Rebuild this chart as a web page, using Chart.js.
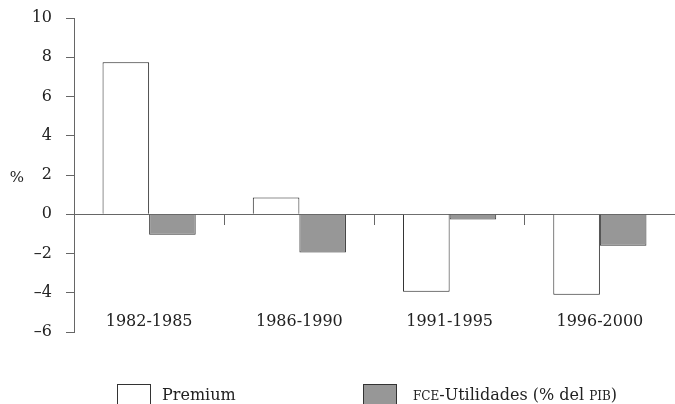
<!DOCTYPE html>
<html>
<head>
<meta charset="utf-8">
<script src="https://cdn.jsdelivr.net/npm/chart.js"></script>
<style>
  html, body { margin: 0; padding: 0; background: #fff; overflow: hidden; }
  #wrap { position: relative; width: 675px; height: 404px; }
  .legend { position: absolute; font-family: "DejaVu Serif", serif; font-size: 16px; color: #222; white-space: nowrap; }
  .box { position: absolute; width: 34px; height: 24px; border: 1px solid #333; box-sizing: border-box; }
  .sc { font-size: 12px; }
</style>
</head>
<body>
<div id="wrap">
  <canvas id="chart" width="675" height="404"></canvas>
  <div class="box" style="left:117px; top:384px; background:#fff;"></div>
  <div class="legend" style="left:162px; top:385px;">Premium</div>
  <div class="box" style="left:363px; top:384px; background:#979797;"></div>
  <div class="legend" style="left:413px; top:385px;"><span class="sc">FCE</span>-Utilidades (% del <span class="sc">PIB</span>)</div>
</div>
<script>
// periods and series
const periods = ['1982-1985', '1986-1990', '1991-1995', '1996-2000'];
const premium = [7.75, 0.85, -3.95, -4.1];
const fceUtilidades = [-1.05, -1.95, -0.27, -1.6];
const yTicks = [10, 8, 6, 4, 2, 0, -2, -4, -6];

const font = { family: '"DejaVu Serif", serif', size: 16 };
const axisColor = '#666';

// draws the "%" label next to the y axis
const percentLabel = {
  id: 'percentLabel',
  afterDraw(chart) {
    const ctx = chart.ctx;
    const y = chart.scales.y.getPixelForValue(2);
    ctx.save();
    ctx.font = '15px "DejaVu Serif", serif';
    ctx.fillStyle = '#222';
    ctx.textAlign = 'center';
    ctx.textBaseline = 'middle';
    ctx.fillText('%', 17, y + 3);
    ctx.restore();
  }
};

new Chart(document.getElementById('chart'), {
  type: 'bar',
  data: {
    labels: periods,
    datasets: [
      {
        label: 'Premium',
        data: premium,
        backgroundColor: '#fff',
        borderColor: '#222',
        borderWidth: 1
      },
      {
        label: 'FCE-Utilidades (% del PIB)',
        data: fceUtilidades,
        backgroundColor: '#979797',
        borderColor: '#333',
        borderWidth: 1
      }
    ]
  },
  options: {
    responsive: false,
    animation: false,
    layout: { padding: { top: 18, right: 0, bottom: 72, left: 0 } },
    datasets: { bar: { categoryPercentage: 0.62, barPercentage: 1.0 } },
    plugins: { legend: { display: false }, tooltip: { enabled: false } },
    scales: {
      x: {
        position: { y: 0 },
        afterFit: s => { s.paddingLeft = 0; s.paddingRight = 0; },
        grid: { offset: true, drawOnChartArea: false, tickLength: 10, color: axisColor },
        border: { color: axisColor },
        ticks: { font: font, color: '#222', padding: 88, maxRotation: 0 }
      },
      y: {
        min: -6,
        max: 10,
        afterFit: s => { s.width = 74; s.paddingTop = 0; s.paddingBottom = 0; },
        afterBuildTicks: s => { s.ticks = yTicks.map(v => ({ value: v })); },
        grid: { drawOnChartArea: false, tickLength: 8, color: axisColor },
        border: { color: axisColor },
        ticks: {
          font: font,
          color: '#222',
          padding: 14,
          callback: v => String(v).replace('-', '\u2013')
        }
      }
    }
  },
  plugins: [percentLabel]
});
</script>
</body>
</html>
